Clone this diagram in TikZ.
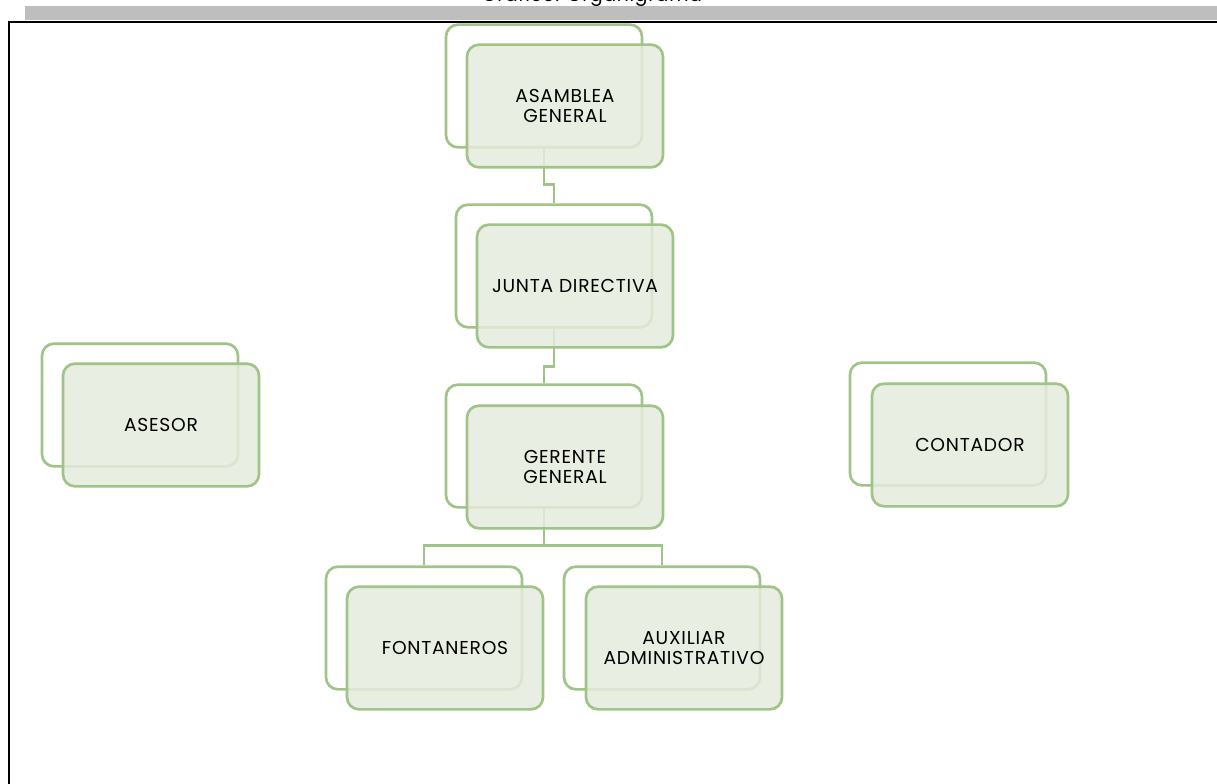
\documentclass[tikz,border=0pt]{standalone}
\usepackage{fontspec}
\setmainfont{Poppins}
\newfontfamily\cardfont{Poppins}[LetterSpace=4]
\usetikzlibrary{calc}

\definecolor{orgline}{RGB}{160,195,135}
\definecolor{orgfill}{RGB}{228,235,220}
\definecolor{bargray}{RGB}{190,190,190}

\begin{document}
\begin{tikzpicture}[x=0.75pt,y=-0.75pt,
    backcard/.style={draw=orgline,line width=2pt,rounded corners=9pt,
        minimum width=147pt,minimum height=92pt,inner sep=0pt},
    frontcard/.style={backcard,fill=orgfill,fill opacity=0.85,text opacity=1,
        align=center,font=\cardfont\fontsize{14}{15}\selectfont},
    link/.style={draw=orgline,line width=2.2pt}]
    \useasboundingbox (0,0) rectangle (1217,784);
    \clip (0,0) rectangle (1217,784);
    % page header
    \node[anchor=base,font=\cardfont\fontsize{14}{15}\selectfont] (titulo) at (592,2) {Gráfico: Organigrama};
    \fill[bargray] (25,6) rectangle (1217,20);
    \draw[line width=1.5pt] (9,784) -- (9,22) -- (1217,22);
    % back cards
    \node[backcard] (asambleaB) at (544,86) {};
    \node[backcard] (juntaB) at (554,266) {};
    \node[backcard] (gerenteB) at (544,446) {};
    \node[backcard] (fontanerosB) at (424,628) {};
    \node[backcard] (auxiliarB) at (662,628) {};
    \node[backcard] (asesorB) at (140,405) {};
    \node[backcard] (contadorB) at (948,424) {};
    % connectors
    \draw[link] (asambleaB.south) |- ($(asambleaB.south)!0.65!(juntaB.north)$) -| (juntaB.north);
    \draw[link] (juntaB.south) |- ($(juntaB.south)!0.7!(gerenteB.north)$) -| (gerenteB.north);
    \draw[link] (gerenteB.south) |- ($(gerenteB.south)!0.65!(fontanerosB.north)$) -| (fontanerosB.north);
    \draw[link] (gerenteB.south) |- ($(gerenteB.south)!0.65!(auxiliarB.north)$) -| (auxiliarB.north);
    % front cards
    \node[frontcard] (asamblea) at ($(asambleaB)+(21,20)$) {ASAMBLEA\\GENERAL};
    \node[frontcard] (junta) at ($(juntaB)+(21,20)$) {JUNTA DIRECTIVA};
    \node[frontcard] (gerente) at ($(gerenteB)+(21,21)$) {GERENTE\\GENERAL};
    \node[frontcard] (fontaneros) at ($(fontanerosB)+(21,20)$) {FONTANEROS};
    \node[frontcard] (auxiliar) at ($(auxiliarB)+(22,20)$) {AUXILIAR\\ADMINISTRATIVO};
    \node[frontcard] (asesor) at ($(asesorB)+(21,20)$) {ASESOR};
    \node[frontcard] (contador) at ($(contadorB)+(22,21)$) {CONTADOR};
\end{tikzpicture}
\end{document}
